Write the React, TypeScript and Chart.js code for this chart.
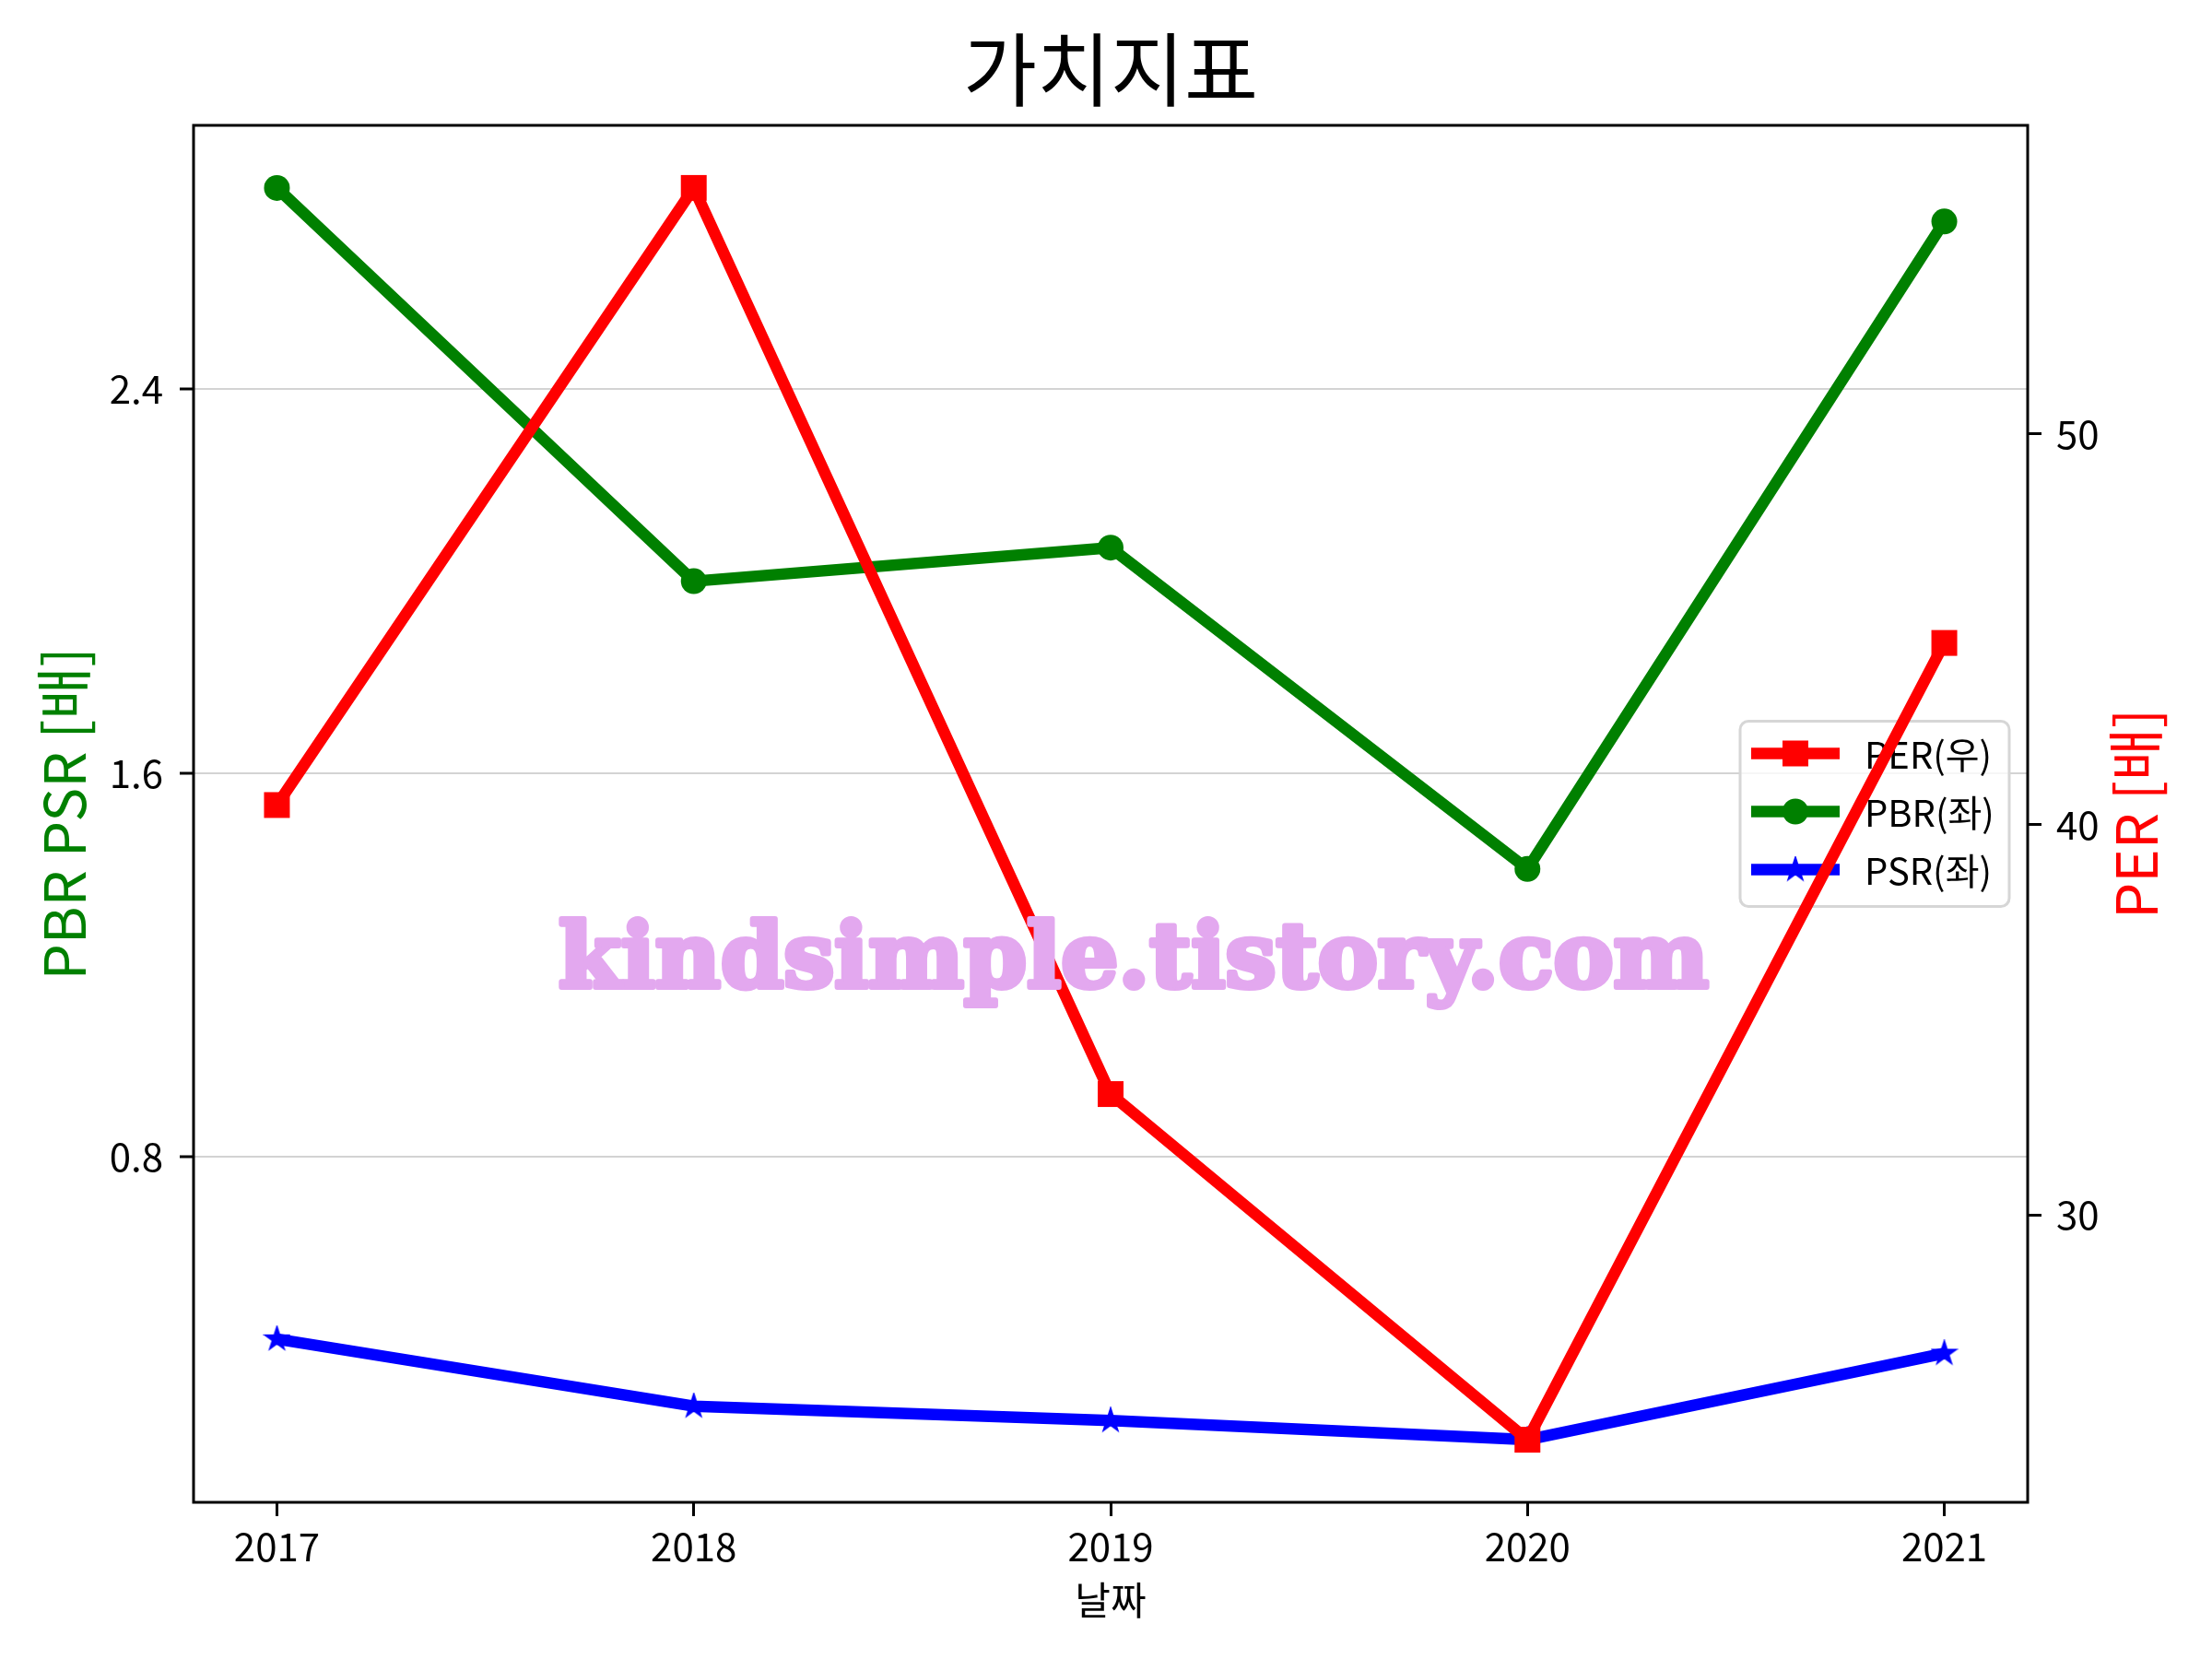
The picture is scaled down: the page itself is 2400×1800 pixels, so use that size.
import { useEffect, useRef } from 'react';
import { Chart, registerables } from 'chart.js';

Chart.register(...registerables);

// ---- data ----
const years = [2017, 2018, 2019, 2020, 2021];
const perValues = [40.5, 56.3, 33.1, 24.25, 44.65];
const pbrValues = [2.82, 2.0, 2.07, 1.4, 2.75];
const psrValues = [0.42, 0.28, 0.25, 0.21, 0.39];
const leftTicks = [0.8, 1.6, 2.4];
const rightTicks = [30, 40, 50];
const seriesLabels = ['PER(우)', 'PBR(좌)', 'PSR(좌)'];
const titleText = '가치지표';
const xTitle = '날짜';
const leftTitle = 'PBR PSR [배]';
const rightTitle = 'PER [배]';
const watermarkText = 'kindsimple.tistory.com';

const FONT = '"Noto Sans CJK KR", "Noto Sans", sans-serif';
const RED = '#ff0000';
const GREEN = '#008000';
const BLUE = '#0000ff';

function paddedRange(vals: number[], frac: number) {
  const lo = Math.min(...vals);
  const hi = Math.max(...vals);
  const d = (hi - lo) * frac;
  return [lo - d, hi + d];
}

function makeStar(color: string, outer: number) {
  const inner = outer * 0.381966;
  const size = Math.ceil(outer * 2 + 6);
  const c = document.createElement('canvas');
  c.width = size;
  c.height = size;
  const g = c.getContext('2d')!;
  const cx = size / 2;
  const cy = size / 2;
  g.beginPath();
  for (let i = 0; i < 10; i++) {
    const r = i % 2 ? inner : outer;
    const a = -Math.PI / 2 + (i * Math.PI) / 5;
    const px = cx + r * Math.cos(a);
    const py = cy + r * Math.sin(a);
    if (i === 0) g.moveTo(px, py);
    else g.lineTo(px, py);
  }
  g.closePath();
  g.fillStyle = color;
  g.fill();
  g.lineWidth = 2.5;
  g.lineJoin = 'miter';
  g.strokeStyle = color;
  g.stroke();
  return c;
}

export default function App() {
  const ref = useRef<HTMLCanvasElement | null>(null);

  useEffect(() => {
    const canvas = ref.current;
    if (!canvas) return;
    const star = makeStar(BLUE, 12);
    const [xMin, xMax] = paddedRange(years, 0.05);
    const [lMin, lMax] = paddedRange([...pbrValues, ...psrValues], 0.05);
    const [rMin, rMax] = paddedRange(perValues, 0.05);

    const drawMarker = (ctx: CanvasRenderingContext2D, kind: string, x: number, y: number, color: string) => {
      ctx.fillStyle = color;
      if (kind === 'rect') {
        const s = 28;
        ctx.fillRect(x - s / 2, y - s / 2, s, s);
      } else if (kind === 'circle') {
        ctx.beginPath();
        ctx.arc(x, y, 14, 0, Math.PI * 2);
        ctx.fill();
      } else {
        ctx.drawImage(star, x - star.width / 2, y - star.height / 2);
      }
    };

    const decor = {
      id: 'decor',
      beforeDatasetDraw(chart: any, args: any) {
        if (args.index !== 0) return;
        const ctx: CanvasRenderingContext2D = chart.ctx;
        const area = chart.chartArea;
        const w = 292;
        const h = 201;
        const bx = area.right - 20 - w;
        const by = (area.top + area.bottom) / 2 - h / 2;
        ctx.save();
        ctx.beginPath();
        if ((ctx as any).roundRect) (ctx as any).roundRect(bx, by, w, h, 9);
        else ctx.rect(bx, by, w, h);
        ctx.fillStyle = 'rgba(255,255,255,0.8)';
        ctx.fill();
        ctx.lineWidth = 3;
        ctx.strokeStyle = '#d6d6d6';
        ctx.stroke();
        const colors = [RED, GREEN, BLUE];
        const kinds = ['rect', 'circle', 'star'];
        ctx.font = `40px ${FONT}`;
        ctx.textBaseline = 'middle';
        ctx.textAlign = 'left';
        for (let i = 0; i < seriesLabels.length; i++) {
          const ry = by + 35 + i * 63;
          ctx.strokeStyle = colors[i];
          ctx.lineWidth = 12.5;
          ctx.lineCap = 'butt';
          ctx.beginPath();
          ctx.moveTo(bx + 12, ry);
          ctx.lineTo(bx + 108, ry);
          ctx.stroke();
          drawMarker(ctx, kinds[i], bx + 60, ry, colors[i]);
          ctx.fillStyle = '#000';
          ctx.fillText(seriesLabels[i], bx + 135, ry + 1);
        }
        ctx.restore();
      },
      afterDatasetsDraw(chart: any) {
        const ctx: CanvasRenderingContext2D = chart.ctx;
        const area = chart.chartArea;
        ctx.save();
        ctx.lineWidth = 3;
        ctx.strokeStyle = '#000';
        ctx.strokeRect(area.left, area.top, area.right - area.left, area.bottom - area.top);
        // watermark
        ctx.font = `bold 100px "DejaVu Serif", serif`;
        const wWidth = ctx.measureText(watermarkText).width;
        const size = (100 * 1248) / wWidth;
        ctx.font = `bold ${size}px "DejaVu Serif", serif`;
        ctx.fillStyle = '#e3a8ef';
        ctx.strokeStyle = '#e3a8ef';
        ctx.lineWidth = 6;
        ctx.lineJoin = 'round';
        ctx.textAlign = 'center';
        ctx.textBaseline = 'alphabetic';
        ctx.strokeText(watermarkText, 1230, 1071);
        ctx.fillText(watermarkText, 1230, 1071);
        ctx.restore();
      },
      afterDraw(chart: any) {
        const ctx: CanvasRenderingContext2D = chart.ctx;
        const area = chart.chartArea;
        ctx.save();
        ctx.fillStyle = '#000';
        ctx.font = `87px ${FONT}`;
        ctx.textAlign = 'center';
        ctx.textBaseline = 'middle';
        ctx.fillText(titleText, (area.left + area.right) / 2, 76);
        ctx.translate(2317, (area.top + area.bottom) / 2);
        ctx.rotate(-Math.PI / 2);
        ctx.fillStyle = RED;
        ctx.font = `62px ${FONT}`;
        ctx.fillText(rightTitle, 0, 0);
        ctx.restore();
      },
    };

    const tickFont = { family: FONT, size: 42 };

    const chart = new Chart(canvas, {
      type: 'line',
      data: {
        datasets: [
          {
            label: seriesLabels[0],
            data: years.map((x, i) => ({ x, y: perValues[i] })),
            yAxisID: 'y1',
            borderColor: RED,
            backgroundColor: RED,
            borderWidth: 12.5,
            borderJoinStyle: 'round',
            pointStyle: 'rect',
            pointRadius: 19.8,
            pointBorderWidth: 0,
            pointBackgroundColor: RED,
            tension: 0,
            order: 0,
          },
          {
            label: seriesLabels[1],
            data: years.map((x, i) => ({ x, y: pbrValues[i] })),
            yAxisID: 'y',
            borderColor: GREEN,
            backgroundColor: GREEN,
            borderWidth: 12.5,
            borderJoinStyle: 'round',
            pointStyle: 'circle',
            pointRadius: 14,
            pointBorderWidth: 0,
            pointBackgroundColor: GREEN,
            tension: 0,
            order: 1,
          },
          {
            label: seriesLabels[2],
            data: years.map((x, i) => ({ x, y: psrValues[i] })),
            yAxisID: 'y',
            borderColor: BLUE,
            backgroundColor: BLUE,
            borderWidth: 12.5,
            borderJoinStyle: 'round',
            pointStyle: star as any,
            pointRadius: 12,
            pointBorderWidth: 0,
            tension: 0,
            order: 2,
          },
        ],
      },
      options: {
        responsive: false,
        animation: false,
        devicePixelRatio: 1,
        layout: { padding: { top: 136, left: 0, right: 0, bottom: 0 } },
        plugins: {
          legend: { display: false },
          title: { display: false },
          tooltip: { enabled: false },
        },
        scales: {
          x: {
            type: 'linear',
            min: xMin,
            max: xMax,
            afterBuildTicks: (s: any) => {
              s.ticks = years.map((v) => ({ value: v }));
            },
            afterFit: (s: any) => {
              s.height = 170;
            },
            ticks: {
              font: tickFont,
              color: '#000',
              padding: 8,
              maxRotation: 0,
              autoSkip: false,
              callback: (v: any) => String(v),
            },
            grid: {
              drawOnChartArea: false,
              drawTicks: true,
              tickLength: 15,
              tickWidth: 3,
              tickColor: '#000',
            },
            border: { display: false },
            title: {
              display: true,
              text: xTitle,
              color: '#000',
              font: { family: FONT, size: 42 },
              padding: { top: 0, bottom: 39 },
            },
          },
          y: {
            type: 'linear',
            position: 'left',
            min: lMin,
            max: lMax,
            afterBuildTicks: (s: any) => {
              s.ticks = leftTicks.map((v) => ({ value: v }));
            },
            afterFit: (s: any) => {
              s.width = 210;
            },
            ticks: { font: tickFont, color: '#000', padding: 18 },
            grid: {
              color: '#d3d3d3',
              lineWidth: 2,
              drawTicks: true,
              tickLength: 15,
              tickWidth: 3,
              tickColor: '#000',
            },
            border: { display: false },
            title: {
              display: true,
              text: leftTitle,
              color: GREEN,
              font: { family: FONT, size: 62 },
              padding: { top: 32, bottom: 0 },
            },
          },
          y1: {
            type: 'linear',
            position: 'right',
            min: rMin,
            max: rMax,
            afterBuildTicks: (s: any) => {
              s.ticks = rightTicks.map((v) => ({ value: v }));
            },
            afterFit: (s: any) => {
              s.width = 200;
            },
            ticks: { font: tickFont, color: '#000', padding: 16 },
            grid: {
              drawOnChartArea: false,
              drawTicks: true,
              tickLength: 15,
              tickWidth: 3,
              tickColor: '#000',
            },
            border: { display: false },
          },
        },
      },
      plugins: [decor],
    } as any);

    return () => chart.destroy();
  }, []);

  return (
    <div style={{ position: 'fixed', left: 0, top: 0, width: 2400, height: 1800, background: '#fff' }}>
      <canvas ref={ref} width={2400} height={1800} style={{ width: 2400, height: 1800, display: 'block' }} />
    </div>
  );
}
